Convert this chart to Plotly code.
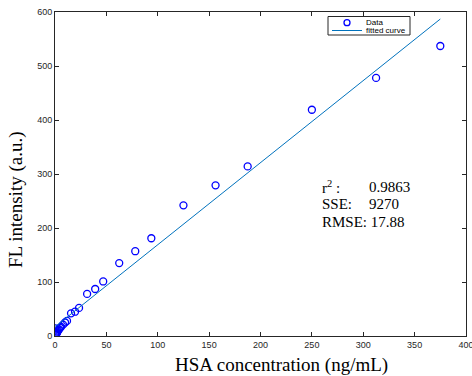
import numpy as np
import plotly.graph_objects as go

# HSA concentration (ng/mL) and fluorescence intensity (a.u.)
hsa_conc = [375, 312.5, 250, 187.5, 156.25, 125, 93.75, 78.1, 62.5, 46.9,
            39.1, 31.25, 23.4, 19.5, 15.6, 11.7, 9.8, 7.8, 5.9, 4.9,
            3.9, 2.9, 2.4, 1.95, 1.46, 1.22, 0.98, 0.73, 0.61, 0.49, 0.3]
fl_intensity = [537, 478, 419, 314, 279, 242, 181, 157, 135, 101,
                87, 78, 52, 45, 42, 28, 25, 21, 17, 15,
                12, 10, 8, 6, 5, 4, 3, 3, 2, 2, 14]

# linear fit parameters
fit_slope = 1.52
fit_intercept = 17.0

# goodness-of-fit summary
stat_labels = ["r<sup>2</sup> :", "SSE:", "RMSE: 17.88"]
stat_values = ["0.9863", "9270", ""]

x_ticks = [0, 50, 100, 150, 200, 250, 300, 350, 400]
y_ticks = [0, 100, 200, 300, 400, 500, 600]

legend_names = ["Data", "fitted curve"]

W, H = 472, 376
ML, MR, MT, MB = 55, 6, 12, 40
PW, PH = W - ML - MR, H - MT - MB


def px(xp):
    """pixel column -> paper x"""
    return (xp - ML) / PW


def py(yp):
    """pixel row -> paper y"""
    return 1 - (yp - MT) / PH


fit_x = np.array([min(hsa_conc), max(hsa_conc)])
fit_y = fit_slope * fit_x + fit_intercept

fig = go.Figure()
fig.add_trace(go.Scatter(
    x=hsa_conc, y=fl_intensity, mode="markers", name=legend_names[0],
    marker=dict(symbol="circle-open", size=7, color="#0000FF",
                line=dict(width=1.3, color="#0000FF")),
))
fig.add_trace(go.Scatter(
    x=fit_x, y=fit_y, mode="lines", name=legend_names[1],
    line=dict(color="#0072BD", width=1),
))

serif = "Liberation Serif, Times New Roman, serif"
sans = "Liberation Sans, Arial, sans-serif"

ann_y = [276, 244, 212]
for lab, val, yy in zip(stat_labels, stat_values, ann_y):
    fig.add_annotation(x=258, y=yy, text=lab, showarrow=False, xanchor="left",
                       yanchor="middle", font=dict(family=serif, size=15, color="black"))
    if val:
        fig.add_annotation(x=304, y=yy, text=val, showarrow=False, xanchor="left",
                           yanchor="middle", font=dict(family=serif, size=15, color="black"))

# axis titles
fig.add_annotation(xref="paper", yref="paper", x=px(281), y=py(365),
                   text="HSA concentration (ng/mL)", showarrow=False,
                   xanchor="center", yanchor="middle",
                   font=dict(family=serif, size=19, color="black"))
fig.add_annotation(xref="paper", yref="paper", x=px(16), y=py(200),
                   text="FL intensity (a.u.)", showarrow=False, textangle=-90,
                   xanchor="center", yanchor="middle",
                   font=dict(family=serif, size=19, color="black"))

# compact legend box
fig.add_shape(type="rect", xref="paper", yref="paper",
              x0=px(328), x1=px(410), y0=py(35), y1=py(16.5),
              line=dict(color="#262626", width=1), fillcolor="white", layer="above")
fig.add_shape(type="circle", xref="paper", yref="paper",
              x0=px(344), x1=px(350), y0=py(25.7), y1=py(19.7),
              line=dict(color="#0000FF", width=1.3), layer="above")
fig.add_shape(type="line", xref="paper", yref="paper",
              x0=px(332), x1=px(362), y0=py(30.5), y1=py(30.5),
              line=dict(color="#0072BD", width=1), layer="above")
for name, yy in zip(legend_names, [22.2, 30.2]):
    fig.add_annotation(xref="paper", yref="paper", x=px(364.5), y=py(yy),
                       text=name, showarrow=False, xanchor="left", yanchor="middle",
                       borderpad=0,
                       font=dict(family=sans, size=8, color="black"))

axis_common = dict(
    showgrid=False, zeroline=False, showline=True, linecolor="#262626", linewidth=1,
    mirror="allticks", ticks="inside", ticklen=4, tickcolor="#262626",
    ticklabeloverflow="allow", automargin=False,
    tickfont=dict(family=sans, size=9, color="#262626"),
)

fig.update_layout(
    width=W, height=H,
    margin=dict(l=ML, r=MR, t=MT, b=MB, autoexpand=False),
    paper_bgcolor="white", plot_bgcolor="white",
    showlegend=False,
    xaxis=dict(range=[0, 400], tickvals=x_ticks, **axis_common),
    yaxis=dict(range=[0, 600], tickvals=y_ticks, **axis_common),
)

fig.write_html("out.html")
